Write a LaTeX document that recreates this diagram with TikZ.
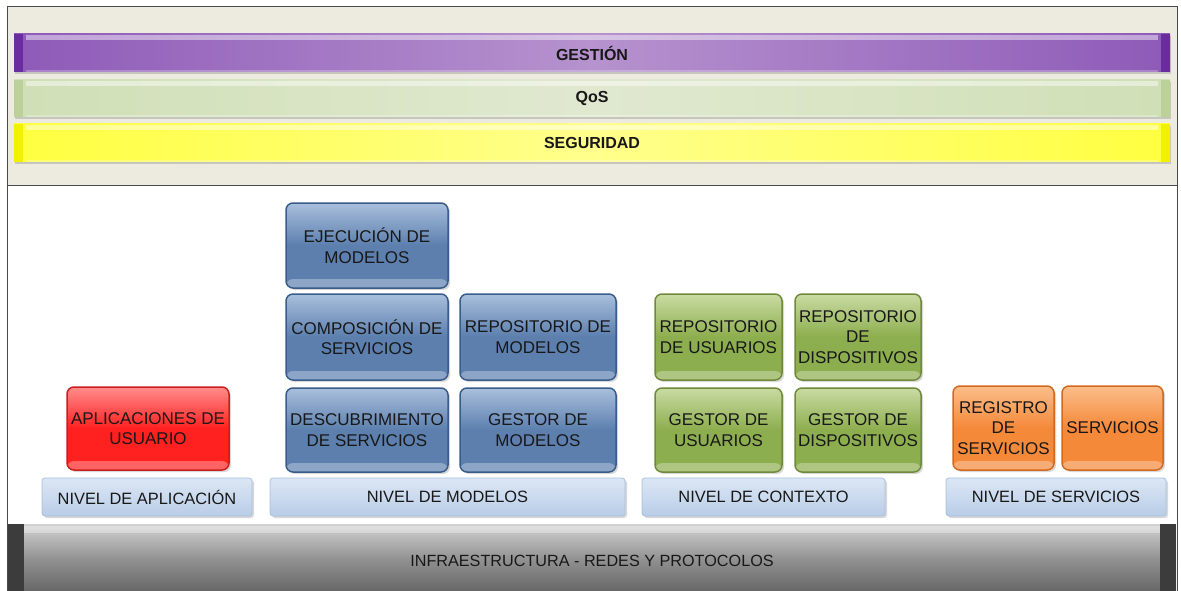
\documentclass[tikz,border=0pt]{standalone}
\usepackage{fontspec}
\setmainfont{Liberation Sans}
\usetikzlibrary{shadows}

\definecolor{panelBg}{HTML}{EDEBE0}
\definecolor{frameLine}{HTML}{4A4A4A}
\definecolor{inkDark}{HTML}{181818}
% management / QoS / security bars
\definecolor{purpleCap}{HTML}{6A2C9E}
\definecolor{purpleEnd}{HTML}{8E5AB8}
\definecolor{purpleMid}{HTML}{B692CE}
\definecolor{qosCap}{HTML}{BCD19A}
\definecolor{qosEnd}{HTML}{D0DFB6}
\definecolor{qosMid}{HTML}{E0E9D0}
\definecolor{yelCap}{HTML}{F2F200}
\definecolor{yelEnd}{HTML}{FFFF40}
\definecolor{yelMid}{HTML}{FFFF8C}
% component boxes
\definecolor{blueLine}{HTML}{385D8A}
\definecolor{blueTop}{HTML}{A9BFDC}
\definecolor{blueBase}{HTML}{5C7FAE}
\definecolor{greenLine}{HTML}{6F8A3A}
\definecolor{greenTop}{HTML}{C9DBA3}
\definecolor{greenBase}{HTML}{8DAE4E}
\definecolor{redLine}{HTML}{C81E1E}
\definecolor{redTop}{HTML}{FF8C8C}
\definecolor{redBase}{HTML}{FF2020}
\definecolor{orangeLine}{HTML}{D2691E}
\definecolor{orangeTop}{HTML}{FBBE8A}
\definecolor{orangeBase}{HTML}{F5893A}
% level labels
\definecolor{levelLine}{HTML}{A8C0DE}
\definecolor{levelTop}{HTML}{DCE7F5}
\definecolor{levelBase}{HTML}{B9CDE7}
% infrastructure base
\definecolor{infraCap}{HTML}{3C3C3C}
\definecolor{infraTop}{HTML}{D2D2D2}
\definecolor{infraMid}{HTML}{8E8E8E}
\definecolor{infraBot}{HTML}{5E5E5E}

\tikzset{
  crossbar/.style n args={3}{
    minimum width=1156pt, inner sep=0pt,
    font=\bfseries\fontsize{16}{18}\selectfont, text=inkDark,
    left color=#2, right color=#2, middle color=#3,
    drop shadow={shadow xshift=1pt, shadow yshift=-2pt, opacity=0.35},
    path picture={
      \fill[#1] (path picture bounding box.north west) rectangle ([xshift=9pt]path picture bounding box.south west);
      \fill[#1] (path picture bounding box.north east) rectangle ([xshift=-9pt]path picture bounding box.south east);
      \fill[white,opacity=0.45] ([xshift=12pt,yshift=-1.5pt]path picture bounding box.north west) rectangle ([xshift=-12pt,yshift=-6pt]path picture bounding box.north east);
      \fill[white,opacity=0.25] ([xshift=12pt,yshift=2pt]path picture bounding box.south west) rectangle ([xshift=-12pt]path picture bounding box.south east);
    }},
  glossy/.style n args={3}{
    draw=#1, line width=1.5pt, rounded corners=7pt,
    top color=#2, bottom color=#3, middle color=#3,
    inner sep=2pt, align=center, text=inkDark,
    font=\fontsize{17}{20.5}\selectfont,
    drop shadow={shadow xshift=2pt, shadow yshift=-2pt, opacity=0.3},
    path picture={
      \fill[white,opacity=0.3] ([yshift=9pt]path picture bounding box.south west) rectangle (path picture bounding box.south east);
    }},
  bluebox/.style={glossy={blueLine}{blueTop}{blueBase}},
  greenbox/.style={glossy={greenLine}{greenTop}{greenBase}},
  redbox/.style={glossy={redLine}{redTop}{redBase}},
  orangebox/.style={glossy={orangeLine}{orangeTop}{orangeBase}},
  levelbox/.style={
    draw=levelLine, line width=0.8pt, rounded corners=3pt,
    top color=levelTop, bottom color=levelBase,
    minimum height=38pt, inner sep=0pt, text=inkDark,
    font=\fontsize{16.4}{19}\selectfont,
    drop shadow={shadow xshift=2pt, shadow yshift=-2pt, opacity=0.3}},
}

\begin{document}
\begin{tikzpicture}[x=1pt,y=-1pt]
  \useasboundingbox (0,0) rectangle (1181,591);
  \fill[white] (0,0) rectangle (1181,591);

  % cross-cutting concerns panel and lower frame
  \fill[panelBg] (7,7) rectangle (1177,185);
  \draw[frameLine, line width=1pt] (7,591) -- (7,7) -- (1177,7) -- (1177,591);
  \draw[frameLine, line width=1pt] (7,185) -- (1177,185);

  \node[crossbar={purpleCap}{purpleEnd}{purpleMid}, minimum height=38pt] (gestion) at (592,53) {GESTIÓN};
  \node[crossbar={qosCap}{qosEnd}{qosMid}, minimum height=37pt] (qos) at (592,98.5) {QoS};
  \node[crossbar={yelCap}{yelEnd}{yelMid}, minimum height=38pt] (seguridad) at (592,143) {SEGURIDAD};

  % application level
  \node[redbox, minimum width=162pt, minimum height=83pt] (apps) at (148,428.5) {APLICACIONES DE\\USUARIO};

  % model level
  \node[bluebox, minimum width=162pt, minimum height=85pt] (ejec) at (367,245.5) {EJECUCIÓN DE\\MODELOS};
  \node[bluebox, minimum width=162pt, minimum height=86pt] (comp) at (367,337) {COMPOSICIÓN DE\\SERVICIOS};
  \node[bluebox, minimum width=156pt, minimum height=86pt] (repmod) at (538,337) {REPOSITORIO DE\\MODELOS};
  \node[bluebox, minimum width=162pt, minimum height=84pt] (desc) at (367,430) {DESCUBRIMIENTO\\DE SERVICIOS};
  \node[bluebox, minimum width=156pt, minimum height=84pt] (gesmod) at (538,430) {GESTOR DE\\MODELOS};

  % context level
  \node[greenbox, minimum width=127pt, minimum height=86pt] (repusr) at (718.5,337) {REPOSITORIO\\DE USUARIOS};
  \node[greenbox, minimum width=126pt, minimum height=86pt] (repdis) at (858,337) {REPOSITORIO\\DE\\DISPOSITIVOS};
  \node[greenbox, minimum width=127pt, minimum height=84pt] (gesusr) at (718.5,430) {GESTOR DE\\USUARIOS};
  \node[greenbox, minimum width=126pt, minimum height=84pt] (gesdis) at (858,430) {GESTOR DE\\DISPOSITIVOS};

  % service level
  \node[orangebox, minimum width=101pt, minimum height=84pt] (regserv) at (1003.5,428) {REGISTRO\\DE\\SERVICIOS};
  \node[orangebox, minimum width=101pt, minimum height=84pt] (serv) at (1112.5,428) {SERVICIOS};

  % level labels
  \node[levelbox, minimum width=210pt] (lvlapp) at (147,497) {NIVEL DE APLICACIÓN};
  \node[levelbox, minimum width=355pt] (lvlmod) at (447.5,497) {NIVEL DE MODELOS};
  \node[levelbox, minimum width=243pt] (lvlctx) at (763.5,497) {NIVEL DE CONTEXTO};
  \node[levelbox, minimum width=220pt] (lvlsrv) at (1056,497) {NIVEL DE SERVICIOS};

  % infrastructure base
  \node[minimum width=1168pt, minimum height=74pt, inner sep=0pt,
        top color=infraTop, bottom color=infraBot, middle color=infraMid,
        text=inkDark, font=\fontsize{16.2}{19}\selectfont,
        path picture={
          \fill[infraCap] (path picture bounding box.north west) rectangle ([xshift=16pt]path picture bounding box.south west);
          \fill[infraCap] (path picture bounding box.north east) rectangle ([xshift=-16pt]path picture bounding box.south east);
          \fill[white,opacity=0.35] ([xshift=16pt,yshift=-2pt]path picture bounding box.north west) rectangle ([xshift=-16pt,yshift=-9pt]path picture bounding box.north east);
        }] (infra) at (592,561) {INFRAESTRUCTURA - REDES Y PROTOCOLOS};
\end{tikzpicture}
\end{document}
